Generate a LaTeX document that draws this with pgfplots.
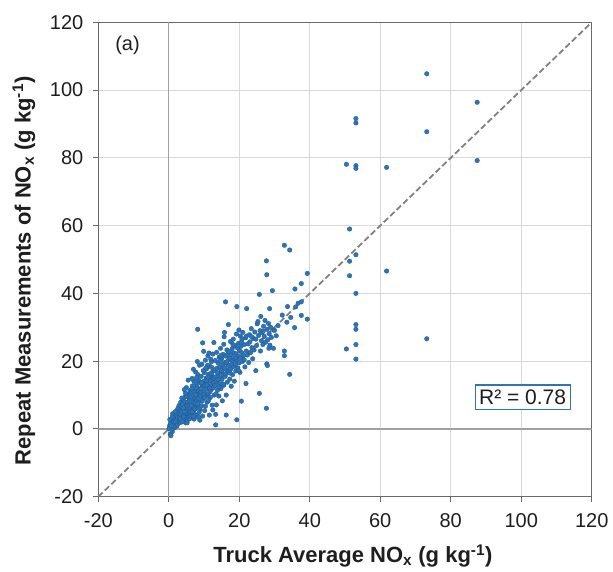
\documentclass[border=0pt]{standalone}
\usepackage{fontspec}
\setmainfont{Liberation Sans}
\usepackage{pgfplots}
\pgfplotsset{compat=1.18}
\definecolor{ptblue}{RGB}{46,117,182}
\definecolor{ptedge}{RGB}{30,88,148}
\definecolor{gridgray}{RGB}{217,217,217}
\definecolor{framegray}{RGB}{105,105,105}
\definecolor{zerogray}{RGB}{160,160,160}
\definecolor{diaggray}{RGB}{128,128,128}
\definecolor{txt}{RGB}{30,30,30}

\begin{document}
\begin{tikzpicture}
\begin{axis}[
  name=ax,
  scale only axis, width=493.4pt, height=474.4pt,
  xmin=-20, xmax=120, ymin=-20, ymax=120,
  xtick={-20,0,...,120}, ytick={-20,0,...,120},
  grid=major, major grid style={gridgray, line width=0.8pt},
  axis line style={framegray, line width=1.1pt},
  tick style={framegray, line width=1.1pt},
  tick align=outside, major tick length=5.5pt,
  xtick pos=lower, ytick pos=left,
  tick label style={font=\fontsize{20}{24}\selectfont, text=txt},
  xticklabel style={yshift=-7.5pt},
  yticklabel style={xshift=-6pt},
  /pgf/number format/assume math mode=true,
  xlabel={Truck Average NO\textsubscript{x} (g kg\textsuperscript{-1})},
  ylabel={Repeat Measurements of NO\textsubscript{x} (g kg\textsuperscript{-1})},
  xlabel style={font=\bfseries\fontsize{22}{26}\selectfont, text=txt,
    at={(axis description cs:0.516,-0.125)}, anchor=center},
  ylabel style={font=\bfseries\fontsize{22}{26}\selectfont, text=txt,
    at={(axis description cs:-0.1506,0.4758)}, anchor=center},
]
% axes through the origin
\addplot[zerogray, line width=1.2pt] coordinates {(0,-20) (0,120)};
\addplot[zerogray, line width=1.2pt] coordinates {(-20,0) (120,0)};

% repeat measurement vs truck average
\addplot[only marks, mark=*, mark size=2.3pt,
  mark options={fill=ptblue, draw=ptedge, line width=0.3pt}] coordinates {
(0.2,0.4)(0.3,1.1)(0.4,-1.5)(0.5,0.2)(0.6,-2.0)(0.7,1.8)(0.8,0.6)(0.9,2.4)(1.0,-0.8)(1.1,1.3)
(1.2,3.1)(1.3,0.2)(1.4,2.0)(1.5,4.3)(1.6,1.0)(1.7,2.7)(1.8,0.5)(1.9,3.5)(2.0,1.6)(2.1,4.8)
(2.2,2.3)(2.3,0.9)(2.4,3.0)(2.5,5.6)(2.6,1.8)(2.7,3.9)(2.8,2.6)(2.9,6.9)(3.0,4.5)(0.3,2.8)
(0.9,0.0)(1.2,1.9)(1.6,3.3)(2.0,2.9)(2.4,1.2)(2.8,4.9)(0.5,1.5)(1.0,3.6)(1.4,0.8)(1.9,2.2)
(2.2,3.8)(2.6,6.1)(3.0,2.2)(0.1,0.1)(0.7,0.9)(1.1,4.5)(1.8,5.1)(2.5,3.3)
(3.1,3.4)(3.2,5.8)(3.3,1.9)(3.4,7.9)(3.5,4.1)(3.6,2.7)(3.7,6.3)(3.8,3.6)(3.9,5.2)(4.0,8.6)
(4.1,2.4)(4.2,4.7)(4.3,6.9)(4.4,3.1)(4.5,5.5)(4.6,9.4)(4.7,4.2)(4.8,1.8)(4.9,6.6)(5.0,7.6)
(5.1,3.8)(5.2,1.8)(5.3,5.9)(5.4,10.2)(5.5,4.5)(5.6,7.1)(5.7,2.9)(5.8,8.8)(5.9,5.3)(6.0,11.3)
(3.2,4.4)(3.5,6.8)(3.8,2.1)(4.0,5.9)(4.3,4.0)(4.6,7.3)(4.9,3.3)(5.1,9.6)(5.4,6.2)(5.7,8.1)
(6.0,4.0)(3.3,3.0)(3.6,5.0)(3.9,7.2)(4.2,3.6)(4.5,8.0)(4.8,5.0)(5.0,12.2)(5.3,7.9)(5.6,3.4)
(5.9,9.9)(4.1,6.2)(4.4,5.1)(4.7,10.6)(5.2,6.8)(5.5,14.4)(5.8,6.9)(3.7,9.1)(4.4,11.6)(5.9,3.0)
(6.1,6.1)(6.2,8.7)(6.3,3.8)(6.4,10.6)(6.5,5.4)(6.6,7.4)(6.7,12.7)(6.8,4.6)(6.9,9.0)(7.0,6.5)
(7.1,14.1)(7.2,2.9)(7.3,8.0)(7.4,11.0)(7.5,5.9)(7.6,16.8)(7.7,7.2)(7.8,9.8)(7.9,4.0)(8.0,12.5)
(8.1,6.9)(8.2,29.4)(8.3,10.4)(8.4,3.5)(8.5,14.3)(8.6,8.1)(8.7,18.8)(8.8,11.6)(8.9,5.7)(9.0,13.5)
(6.2,5.0)(6.5,11.8)(6.8,7.9)(7.1,4.8)(7.4,9.4)(7.7,13.6)(8.0,8.6)(8.3,16.0)(8.6,4.9)(8.9,10.3)
(6.3,9.4)(6.6,14.9)(6.9,3.7)(7.2,10.9)(7.5,7.6)(7.8,12.0)(8.1,19.9)(8.4,9.1)(8.7,6.2)(9.0,9.8)
(6.4,7.0)(6.7,5.1)(7.0,17.6)(7.3,6.0)(7.6,10.1)(7.9,15.2)(8.2,7.4)(8.5,11.2)(8.8,2.6)(6.0,8.3)
(9.1,10.9)(9.2,15.5)(9.3,6.8)(9.4,19.1)(9.5,12.4)(9.6,25.4)(9.7,8.9)(9.8,14.0)(9.9,22.9)(10.0,11.0)
(10.1,16.6)(10.2,5.4)(10.3,13.1)(10.4,20.3)(10.5,9.6)(10.6,15.0)(10.7,11.8)(10.8,17.8)(10.9,7.9)(11.0,13.9)
(11.1,21.6)(11.2,10.4)(11.3,16.1)(11.4,12.6)(11.5,4.1)(11.6,18.5)(11.7,14.4)(11.8,9.3)(11.9,15.6)(12.0,11.6)
(12.1,19.8)(12.2,13.2)(12.3,7.0)(12.4,16.9)(12.5,22.1)(12.6,12.1)(12.7,14.8)(12.8,25.5)(12.9,10.0)(13.0,17.3)
(9.2,11.9)(9.5,8.2)(9.8,17.2)(10.1,12.9)(10.4,6.7)(10.7,14.2)(11.0,18.8)(11.3,8.4)(11.6,12.0)(11.9,20.6)
(12.2,15.9)(12.5,5.6)(12.8,13.6)(9.3,13.7)(9.9,10.1)(10.5,18.0)(11.1,15.3)(11.7,11.0)(12.3,18.1)(12.9,15.0)
(9.6,3.8)(10.2,9.3)(10.8,13.0)(11.4,22.4)(12.0,16.4)
(13.1,12.8)(13.2,20.2)(13.3,4.3)(13.3,1.2)(13.4,15.4)(13.5,7.1)(13.6,22.6)(13.7,17.9)(13.8,11.4)(13.9,14.1)
(14.0,19.4)(14.1,16.2)(14.2,9.7)(14.3,21.2)(14.4,13.3)(14.5,18.2)(14.6,15.1)(14.7,23.8)(14.8,11.9)(14.9,16.8)
(15.0,20.8)(15.1,14.6)(15.2,8.3)(15.3,18.9)(15.4,22.0)(15.5,16.0)(15.6,12.9)(15.7,27.2)(15.8,28.5)(15.9,19.6)
(16.0,15.5)(16.1,37.5)(16.2,21.5)(16.3,10.0)(16.3,4.1)(16.4,17.4)(16.5,23.3)(16.6,13.8)(16.7,19.0)(16.9,30.8)
(17.0,20.4)(13.4,10.3)(13.8,16.6)(14.2,12.4)(14.6,20.1)(15.0,17.3)(15.4,13.2)(15.8,18.0)(16.2,16.3)(16.6,22.0)
(17.0,16.9)(14.0,14.6)(14.8,21.7)(15.6,25.0)(16.4,19.8)
(17.1,18.6)(17.2,22.8)(17.3,14.7)(17.4,20.9)(17.5,25.8)(17.6,17.7)(17.7,12.6)(17.8,21.9)(17.9,19.3)(18.0,23.7)
(18.1,16.0)(18.2,20.3)(18.3,26.5)(18.4,18.4)(18.5,22.4)(18.6,14.1)(18.7,20.8)(18.8,24.6)(18.9,19.0)(19.0,17.1)
(19.1,22.2)(19.2,28.0)(19.3,36.1)(19.3,2.7)(19.4,20.0)(19.5,23.9)(19.6,18.0)(19.7,21.4)(19.8,25.3)(19.9,29.2)
(20.0,19.5)(20.1,23.1)(20.2,16.7)(20.3,27.4)(20.4,21.0)(20.5,24.4)(20.6,8.2)(20.7,22.5)(20.8,26.5)(20.9,19.9)
(21.0,28.5)(21.2,21.7)(21.4,24.9)(21.6,18.3)(21.8,26.9)(22.0,23.0)(22.1,35.5)(21.9,13.4)(17.4,16.5)(18.2,24.9)
(19.0,21.0)(19.8,17.2)(20.6,25.6)(21.4,20.4)(22.0,27.4)
(22.3,21.8)(22.5,25.1)(22.7,19.6)(22.9,27.8)(23.0,25.7)(23.2,22.5)(23.4,29.6)(23.6,24.0)(23.8,20.7)(24.0,26.7)
(24.2,23.3)(24.4,28.6)(24.7,26.5)(24.7,17.2)(24.9,24.6)(25.1,31.0)(25.3,31.7)(25.5,27.6)(25.7,39.7)(25.7,10.5)
(25.9,29.0)(26.1,33.2)(26.3,26.0)(26.5,28.4)(26.7,24.9)(26.9,30.3)(27.1,27.3)(27.3,32.0)(27.5,25.6)(27.7,49.6)
(27.7,6.1)(27.8,45.5)(27.8,19.2)(28.0,18.7)(27.9,29.4)(28.1,26.3)(28.3,31.1)(28.5,28.1)(28.6,35.5)(28.7,24.7)
(28.9,30.0)(29.1,27.0)(29.4,40.8)(29.7,29.2)(29.7,23.8)(30.0,29.1)(23.5,27.2)(26.0,23.0)(26.8,28.9)(28.4,23.8)
(32.8,54.2)(34.3,52.8)(39.3,45.9)(37.6,42.9)(35.8,41.3)(33.7,36.1)(36.7,37.1)(37.6,37.5)(37.6,33.5)(39.3,32.4)
(35.7,29.9)(34.3,16.1)(32.8,23.0)(32.8,21.6)(31.0,30.5)(32.2,33.6)(33.5,31.5)(34.6,32.9)(36.0,36.0)(30.5,27.5)
(73.2,104.8)(87.5,96.4)(73.2,87.7)(87.5,79.2)(53.1,91.6)(53.1,90.3)(50.4,78.1)(53.1,77.7)(53.1,76.9)(61.8,77.2)
(51.3,59.0)(53.1,51.4)(51.3,49.5)(51.3,45.2)(61.8,46.6)(53.1,40.0)(53.1,30.8)(53.1,29.4)(73.2,26.6)(53.1,24.9)
(50.4,23.6)(53.1,20.6)
};

% 1:1 line
\addplot[diaggray, line width=1.8pt, dash pattern=on 6pt off 3pt] coordinates {(-20,-20) (120,120)};

\node[font=\fontsize{20}{24}\selectfont, text=txt] at (axis cs:-11.7,113.3) {(a)};
\node[draw=ptblue, line width=1.2pt, fill=white, inner xsep=4pt, inner ysep=5pt,
  font=\fontsize{21}{25}\selectfont, text=txt] at (axis cs:100.4,9.3) {R² = 0.78};
\end{axis}
\pgfresetboundingbox
\useasboundingbox ([xshift=-98.3pt,yshift=-74.3pt]ax.south west)
  rectangle ([xshift=21.3pt,yshift=22.3pt]ax.north east);
\end{tikzpicture}
\end{document}
